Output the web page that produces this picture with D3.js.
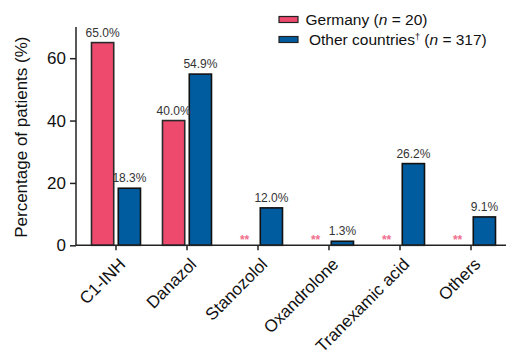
<!DOCTYPE html>
<html>
<head>
<meta charset="utf-8">
<script src="https://cdn.jsdelivr.net/npm/d3@7/dist/d3.min.js"></script>
<style>
  html, body { margin: 0; padding: 0; background: #fff; }
  svg { display: block; font-family: "Liberation Sans", Arial, sans-serif; }
</style>
</head>
<body>
<svg id="chart" width="508" height="357"></svg>
<script>
// Treatment categories
const categories = ["C1-INH", "Danazol", "Stanozolol", "Oxandrolone", "Tranexamic acid", "Others"];
// Share of patients (%) per group; null = not used (marked **)
const germany = [65.0, 40.0, null, null, null, null];
const otherCountries = [18.3, 54.9, 12.0, 1.3, 26.2, 9.1];
const yTicks = [0, 20, 40, 60];
const seriesNames = ["Germany", "Other countries"];
const seriesColors = ["#EE4A6E", "#005C9E"];

const svg = d3.select("#chart");

const x = d3.scaleBand().domain(categories).range([80.5, 506.5]).paddingInner(0).paddingOuter(0);
const sub = d3.scaleBand().domain(seriesNames).range([-24.5, 24.5]).paddingInner(0.17);
const y = d3.scaleLinear().domain([0, 70]).range([245.3, 27]);

const rows = categories.map((c, i) => ({ cat: c, values: [germany[i], otherCountries[i]] }));

// Bars
const groups = svg.append("g").selectAll("g")
  .data(rows).join("g")
  .attr("transform", d => `translate(${x(d.cat) + x.bandwidth() / 2},0)`);

groups.selectAll("rect")
  .data(d => d.values.map((v, k) => ({ v, k })).filter(e => e.v !== null))
  .join("rect")
  .attr("x", e => sub(seriesNames[e.k]))
  .attr("width", sub.bandwidth())
  .attr("y", e => y(e.v))
  .attr("height", e => y(0) - y(e.v))
  .attr("fill", e => seriesColors[e.k])
  .attr("stroke", e => e.k === 0 ? "#2a2a2a" : "#111")
  .attr("stroke-width", 1.6);

// Value labels
groups.selectAll("text.val")
  .data(d => d.values.map((v, k) => ({ v, k })).filter(e => e.v !== null))
  .join("text")
  .attr("class", "val")
  .attr("x", e => sub(seriesNames[e.k]) + sub.bandwidth() / 2)
  .attr("y", e => y(e.v) - 6)
  .attr("text-anchor", "middle")
  .attr("font-size", 12)
  .attr("fill", "#333")
  .text(e => e.v.toFixed(1) + "%");

// ** markers where the group has no patients
groups.selectAll("text.na")
  .data(d => d.values.map((v, k) => ({ v, k })).filter(e => e.v === null))
  .join("text")
  .attr("class", "na")
  .attr("x", e => sub(seriesNames[e.k]) + sub.bandwidth() / 2)
  .attr("y", y(0) - 1)
  .attr("text-anchor", "middle")
  .attr("font-size", 12)
  .attr("font-weight", "bold")
  .attr("fill", "#F0708E")
  .text("**");

// Y axis
const yAxis = svg.append("g")
  .attr("transform", "translate(76,0)")
  .call(d3.axisLeft(y).tickValues(yTicks).tickSize(6).tickPadding(4).tickSizeOuter(0));
yAxis.select(".domain").attr("stroke", "#222").attr("stroke-width", 1.5)
  .attr("d", `M0,${y(70)}V${y(0)}`);
yAxis.selectAll(".tick line").attr("stroke", "#222").attr("stroke-width", 1.5);
yAxis.selectAll(".tick text").attr("font-size", 17).attr("fill", "#111")
  .attr("font-family", "Liberation Sans, Arial, sans-serif");

// X axis
const xAxis = svg.append("g")
  .attr("transform", `translate(0,${y(0)})`)
  .call(d3.axisBottom(x).tickSize(5).tickSizeOuter(0));
xAxis.select(".domain").attr("stroke", "#222").attr("stroke-width", 1.5)
  .attr("d", "M76,0H506");
xAxis.selectAll(".tick line").attr("stroke", "#222").attr("stroke-width", 1.5);
xAxis.selectAll(".tick text")
  .attr("font-size", 17).attr("fill", "#111")
  .attr("font-family", "Liberation Sans, Arial, sans-serif")
  .attr("text-anchor", "end")
  .attr("y", 0)
  .attr("dy", "0")
  .attr("transform", "translate(10.5,20) rotate(-45)");

// Y axis title
svg.append("text")
  .attr("transform", `translate(27,${(y(0) + y(70)) / 2 + 1}) rotate(-90)`)
  .attr("text-anchor", "middle")
  .attr("font-size", 17)
  .attr("fill", "#111")
  .text("Percentage of patients (%)");

// Legend
const legend = svg.append("g");
const legendItems = [
  { color: seriesColors[0], parts: [["Germany (", ""], ["n", "italic"], [" = 20)", ""]] },
  { color: seriesColors[1], parts: [["Other countries", ""], ["\u2020", "sup"], [" (", ""], ["n", "italic"], [" = 317)", ""]] }
];
legendItems.forEach((it, i) => {
  const yy = 19.5 + i * 20;
  legend.append("rect")
    .attr("x", 279).attr("y", yy - 3).attr("width", 19).attr("height", 6)
    .attr("fill", it.color).attr("stroke", "#222").attr("stroke-width", 1.2);
  const t = legend.append("text")
    .attr("x", i === 0 ? 305.5 : 309).attr("y", yy + 5.5)
    .attr("font-size", 15.5).attr("fill", "#111");
  it.parts.forEach(([s, st]) => {
    const ts = t.append("tspan").text(s);
    if (st === "italic") ts.attr("font-style", "italic");
    if (st === "sup") ts.attr("font-size", 9).attr("dy", -5);
    if (st === "" && s.startsWith(" (")) ts.attr("dy", 5);
  });
});
</script>
</body>
</html>
